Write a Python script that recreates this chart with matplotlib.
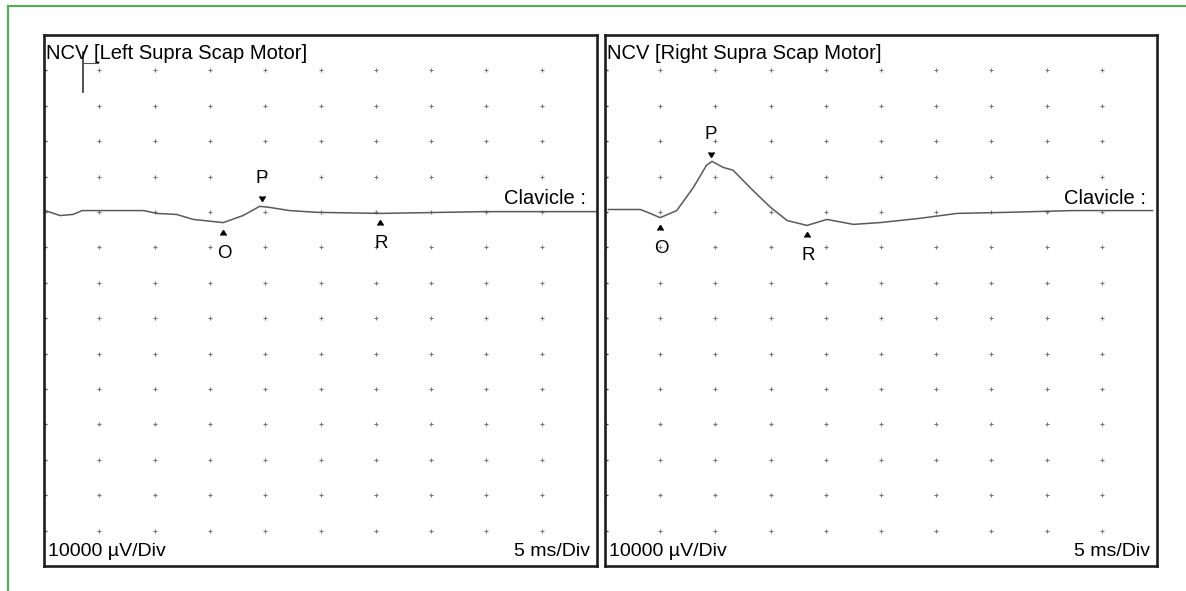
import numpy as np
import matplotlib.pyplot as plt
from matplotlib.lines import Line2D
from matplotlib.transforms import ScaledTranslation

# latency (ms) and amplitude (mV)
left_ms = [0.1, 1.45, 2.6, 3.45, 6.0, 9.0, 10.2, 12.0, 13.5, 16.2, 18.0, 19.5, 20.4, 22.2, 24.7, 30.4, 39.7, 50.0]
left_mv = [0.4, -1.0, -0.7, 0.4, 0.4, 0.4, -0.4, -0.7, -2.1, -3.0, -1.0, 1.6, 1.3, 0.4, -0.1, -0.4, 0.1, 0.1]

right_ms = [0.3, 3.2, 4.1, 5.0, 6.5, 8.0, 9.2, 9.7, 10.7, 11.6, 13.4, 15.0, 16.5, 18.3, 20.1, 22.5, 24.9, 28.5, 31.9, 36.4, 42.4, 49.6]
right_mv = [0.7, 0.7, -0.4, -1.6, 0.4, 6.9, 13.2, 14.3, 12.6, 11.8, 6.1, 1.3, -2.4, -3.8, -2.1, -3.5, -3.0, -1.8, -0.4, -0.1, 0.4, 0.4]

# markers: onset (O), peak (P), return (R) in ms
marker_names = ["O", "P", "R"]
left_markers = [16.2, 19.7, 30.4]
right_markers = [5.0, 9.6, 18.3]

titles = ["NCV [Left Supra Scap Motor]", "NCV [Right Supra Scap Motor]"]
site = "Clavicle :"
gain_label = "10000 µV/Div"
sweep_label = "5 ms/Div"

# stimulus artefact on the left trace
stim_ms = 3.5
stim_mv = [33.9, 45.2]

ms_div = 5
mv_div = 10
n_xdiv = 10
n_up, n_down = 5, 10

plt.rcParams["font.family"] = ["Liberation Sans", "DejaVu Sans"]

fig = plt.figure(figsize=(11.86, 5.91), dpi=100)

# green frame round the figure
fig.add_artist(Line2D([0.0067, 0.0067], [0.0, 0.99], color="#4caf50", lw=1.5, transform=fig.transFigure))
fig.add_artist(Line2D([0.0067, 1.0], [0.99, 0.99], color="#4caf50", lw=1.5, transform=fig.transFigure))


def draw_panel(ax, ms, mv, markers, title):
    ax.set_xlim(0, n_xdiv * ms_div)
    ax.set_ylim(-n_down * mv_div, n_up * mv_div)
    for s in ax.spines.values():
        s.set_linewidth(1.9)
        s.set_color("#1e1e1e")
    ax.set_xticks([])
    ax.set_yticks(np.arange(-n_down + 1, n_up) * mv_div)
    ax.tick_params(axis="y", direction="in", length=2, width=1, labelleft=False, color="#555555")

    gx, gy = np.meshgrid(np.arange(1, n_xdiv) * ms_div, np.arange(-n_down + 1, n_up) * mv_div)
    ax.scatter(gx.ravel(), gy.ravel(), marker="+", s=12, lw=0.8, color="#7a7a7a", zorder=1)

    ax.plot(ms, mv, color="#5a5a5a", lw=1.1, zorder=2)

    up = ax.transData + ScaledTranslation(0, 4 / 72, fig.dpi_scale_trans)
    down = ax.transData + ScaledTranslation(0, -5 / 72, fig.dpi_scale_trans)
    for name, t in zip(marker_names, markers):
        v = np.interp(t, ms, mv)
        if name == "P":
            ax.plot([t], [v], marker=7, color="black", ms=5, zorder=3, transform=up)
            ax.annotate(name, (t, v), xytext=(0, 20), textcoords="offset points",
                        ha="center", va="center", fontsize=13.5)
        else:
            ax.plot([t], [v], marker=6, color="black", ms=5, zorder=3, transform=down)
            ax.annotate(name, (t, v), xytext=(1, -22), textcoords="offset points",
                        ha="center", va="center", fontsize=13.5)

    ax.text(0.004, 0.966, title, transform=ax.transAxes, ha="left", va="center", fontsize=14.5)
    ax.text(0.98, 0.693, site, transform=ax.transAxes, ha="right", va="center", fontsize=14.5)
    ax.text(0.008, 0.028, gain_label, transform=ax.transAxes, ha="left", va="center", fontsize=14)
    ax.text(0.988, 0.028, sweep_label, transform=ax.transAxes, ha="right", va="center", fontsize=14)


ax1 = fig.add_axes([0.0371, 0.0423, 0.4663, 0.8985])
ax2 = fig.add_axes([0.5101, 0.0423, 0.4654, 0.8985])

draw_panel(ax1, left_ms, left_mv, left_markers, titles[0])
draw_panel(ax2, right_ms, right_mv, right_markers, titles[1])

ax1.plot([stim_ms, stim_ms], stim_mv, color="#333333", lw=1.2)
ax1.plot([stim_ms, stim_ms + 1.4], [stim_mv[1] - 3, stim_mv[1] - 3], color="#555555", lw=0.8)

fig.savefig("out.png", dpi=100)
